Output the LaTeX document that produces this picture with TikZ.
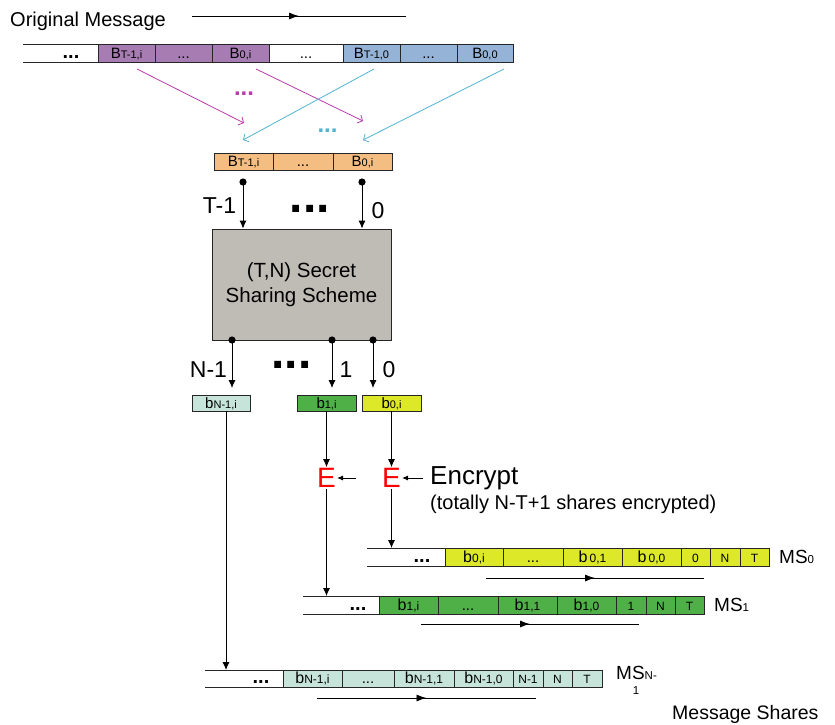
\documentclass[tikz,border=0pt]{standalone}
\usepackage{fontspec}
\setmainfont{Liberation Sans}
\usetikzlibrary{arrows.meta,decorations.markings}
\definecolor{cpurple}{RGB}{166,124,178}
\definecolor{cblue}{RGB}{149,179,215}
\definecolor{corange}{RGB}{244,190,130}
\definecolor{cgray}{RGB}{191,188,182}
\definecolor{cteal}{RGB}{198,228,218}
\definecolor{cgreen}{RGB}{80,176,72}
\definecolor{cyellow}{RGB}{220,232,40}
\definecolor{cmag}{RGB}{185,60,170}
\definecolor{ccyan}{RGB}{80,180,210}
\newcommand{\fs}[1]{\fontsize{#1}{#1}\selectfont}
\newcommand{\bsb}[2]{{\fs{15}#1}{\fs{11}#2}}
\newcommand{\lsb}[2]{{\fs{16}#1}{\fs{12}#2}}
\begin{document}
\begin{tikzpicture}[x=1pt,y=-1pt,
  cell/.style={draw=black!85,line width=0.8pt,inner sep=0pt,outer sep=0pt,
    text height=10.5pt,text depth=0pt,font=\fs{12}},
  cellline/.style={draw=black!85,line width=0.8pt},
  wdots/.style={font=\fs{20}\bfseries,inner sep=0pt},
  bigdots/.style={font=\fs{48}\bfseries,inner sep=0pt},
  lbl/.style={font=\fs{23},inner sep=0pt,anchor=base},
  conn/.style={line width=0.9pt,-{Latex[length=8pt,width=7pt]}},
  econn/.style={line width=0.9pt,-{Latex[length=6pt,width=5pt]}},
  dotstart/.style={fill=black},
  magarrow/.style={draw=cmag,line width=0.8pt,-{Straight Barb[length=4pt,width=9pt]}},
  cyanarrow/.style={draw=ccyan,line width=0.8pt,-{Straight Barb[length=4pt,width=9pt]}},
  midarrow/.style={line width=0.9pt,decoration={markings,
    mark=at position 0.5 with {\arrow{Latex[length=10pt,width=7pt]}}},postaction={decorate}},
  enode/.style={text=red,font=\fs{28},inner sep=1pt},
  txt/.style={inner sep=0pt}]
\useasboundingbox (0,0) rectangle (835,725);
\fill[white] (0,0) rectangle (835,725);

% ---- Original message
\node[txt,anchor=base west,font=\fs{20}] (omsg) at (10,27) {Original Message};
\coordinate (om1) at (192,16);
\coordinate (om2) at (406,16);
\draw[midarrow] (om1) -- (om2);

\begin{scope}[every node/.append style={minimum height=18pt}]
\node[cell,draw=none,minimum width=75] (o0) at (60.5,53) {};
\node[cell,fill=cpurple,minimum width=57] (o1) at (126.5,53) {\bsb{B}{T-1,i}};
\node[cell,fill=cpurple,minimum width=57] (o2) at (183.5,53) {\fs{15}...};
\node[cell,fill=cpurple,minimum width=57] (o3) at (240.5,53) {\bsb{B}{0,i}};
\node[cell,fill=white,minimum width=74] (o4) at (306,53) {\fs{15}...};
\node[cell,fill=cblue,minimum width=57] (o5) at (371.5,53) {\bsb{B}{T-1,0}};
\node[cell,fill=cblue,minimum width=57] (o6) at (428.5,53) {\fs{15}...};
\node[cell,fill=cblue,minimum width=56] (o7) at (485,53) {\bsb{B}{0,0}};
\end{scope}
\draw[cellline] (o0.north west) -- (o0.north east) (o0.south west) -- (o0.south east);
\node[wdots] (o0t) at (71,57) {...};

% ---- crossing arrows
\coordinate (ma1) at (137,69);
\coordinate (mb1) at (244,123);
\coordinate (ma2) at (256,69);
\coordinate (mb2) at (363,121);
\coordinate (ca1) at (374,69);
\coordinate (cb1) at (243,140);
\coordinate (ca2) at (504,69);
\coordinate (cb2) at (363,140);
\draw[magarrow] (ma1) -- (mb1);
\draw[magarrow] (ma2) -- (mb2);
\draw[cyanarrow] (ca1) -- (cb1);
\draw[cyanarrow] (ca2) -- (cb2);
\node[txt,text=cmag,font=\fs{24}\bfseries] (mdots) at (244,94) {...};
\node[txt,text=ccyan,font=\fs{24}\bfseries] (cdots) at (327.5,131) {...};

% ---- middle row
\begin{scope}[every node/.append style={minimum height=17pt}]
\node[cell,fill=corange,minimum width=59] (m1) at (243.5,161.5) {\bsb{B}{T-1,i}};
\node[cell,fill=corange,minimum width=60] (m2) at (303,161.5) {\fs{15}...};
\node[cell,fill=corange,minimum width=59] (m3) at (362.5,161.5) {\bsb{B}{0,i}};
\end{scope}

% ---- secret sharing box
\node[draw=black!85,line width=0.8pt,fill=cgray,minimum width=179pt,minimum height=111pt,
  inner sep=0pt,align=center,font=\fs{20.5}] (sss) at (301.5,284.5)
  {(T,N) Secret\\[4pt]Sharing Scheme};

\coordinate (in1) at (243,182);
\coordinate (in0) at (362,182);
\fill[dotstart] (in1) circle (3.6);
\fill[dotstart] (in0) circle (3.6);
\draw[conn] (in1) -- (in1 |- sss.north);
\draw[conn] (in0) -- (in0 |- sss.north);
\node[lbl] (lt1) at (219.5,213) {T-1};
\node[lbl] (lt0) at (378,218) {0};
\node[bigdots] (bd1) at (310,209) {...};

% ---- outputs
\coordinate (out2) at (232,340);
\coordinate (out1) at (332,340);
\coordinate (out0) at (373,340);
\fill[dotstart] (out2) circle (3.6);
\fill[dotstart] (out1) circle (3.6);
\fill[dotstart] (out0) circle (3.6);

\begin{scope}[every node/.append style={minimum height=16pt}]
\node[cell,fill=cteal,minimum width=58,text height=10pt] (s2) at (221,403) {\bsb{b}{N-1,i}};
\node[cell,fill=cgreen,minimum width=59,text height=10pt] (s1) at (326.5,403) {\bsb{b}{1,i}};
\node[cell,fill=cyellow,minimum width=59,text height=10pt] (s0) at (391.5,403) {\bsb{b}{0,i}};
\end{scope}
\coordinate (t2) at (232,388);
\coordinate (t1) at (332,388);
\coordinate (t0) at (373,388);
\draw[conn] (out2) -- (t2);
\draw[conn] (out1) -- (t1);
\draw[conn] (out0) -- (t0);
\node[lbl] (ln1) at (208.5,377) {N-1};
\node[lbl] (ln1b) at (346,377) {1};
\node[lbl] (ln0) at (389,377) {0};
\node[bigdots] (bd2) at (291.5,365) {...};

% ---- encryption
\node[enode] (E1) at (326.5,478) {E};
\node[enode] (E0) at (391.5,478) {E};
\draw[conn] (s1.south) -- (s1.south |- E1.north);
\draw[conn] (s0.south) -- (s0.south |- E0.north);
\coordinate (enc1) at (356,478);
\coordinate (enc0) at (423,478);
\draw[econn] (enc1) -- (E1.east);
\draw[econn] (enc0) -- (E0.east);
\node[txt,anchor=base west,font=\fs{26}] (enc) at (430,484) {Encrypt};
\node[txt,anchor=base west,font=\fs{20}] (encnote) at (430,509) {(totally N-T+1 shares encrypted)};

% ---- MS0 row
\begin{scope}[every node/.append style={minimum height=18pt}]
\node[cell,draw=none,minimum width=78] (a0) at (406,557) {};
\node[cell,fill=cyellow,minimum width=58] (a1) at (474,557) {\lsb{b}{0,i}};
\node[cell,fill=cyellow,minimum width=60] (a2) at (533,557) {\fs{15}...};
\node[cell,fill=cyellow,minimum width=59] (a3) at (592.5,557) {\lsb{b}{\,0,1}};
\node[cell,fill=cyellow,minimum width=59] (a4) at (651.5,557) {\lsb{b}{\,0,0}};
\node[cell,fill=cyellow,minimum width=29] (a5) at (695.5,557) {0};
\node[cell,fill=cyellow,minimum width=30] (a6) at (725,557) {N};
\node[cell,fill=cyellow,minimum width=29] (a7) at (754.5,557) {T};
\end{scope}
\draw[cellline] (a0.north west) -- (a0.north east) (a0.south west) -- (a0.south east);
\node[wdots] (a0t) at (422,561) {...};
\node[txt,anchor=base west] (ms0) at (779,563) {\fs{19}MS{\fs{11.5}0}};
\coordinate (ar0a) at (486,578);
\coordinate (ar0b) at (704,578);
\draw[midarrow] (ar0a) -- (ar0b);

% ---- MS1 row
\begin{scope}[every node/.append style={minimum height=18pt}]
\node[cell,draw=none,minimum width=76] (b0) at (341,605) {};
\node[cell,fill=cgreen,minimum width=59] (b1) at (408.5,605) {\lsb{b}{1,i}};
\node[cell,fill=cgreen,minimum width=60] (b2) at (468,605) {\fs{15}...};
\node[cell,fill=cgreen,minimum width=59] (b3) at (527.5,605) {\lsb{b}{1,1}};
\node[cell,fill=cgreen,minimum width=59] (b4) at (586.5,605) {\lsb{b}{1,0}};
\node[cell,fill=cgreen,minimum width=30] (b5) at (631,605) {1};
\node[cell,fill=cgreen,minimum width=29] (b6) at (660.5,605) {N};
\node[cell,fill=cgreen,minimum width=29] (b7) at (689.5,605) {T};
\end{scope}
\draw[cellline] (b0.north west) -- (b0.north east) (b0.south west) -- (b0.south east);
\node[wdots] (b0t) at (358,609) {...};
\node[txt,anchor=base west] (ms1) at (714,611) {\fs{19}MS{\fs{11.5}1}};
\coordinate (ar1a) at (421,624);
\coordinate (ar1b) at (639,624);
\draw[midarrow] (ar1a) -- (ar1b);

% ---- MS N-1 row
\begin{scope}[every node/.append style={minimum height=17pt}]
\node[cell,draw=none,minimum width=78] (c0) at (244,678.5) {};
\node[cell,fill=cteal,minimum width=59] (c1) at (312.5,678.5) {\lsb{b}{N-1,i}};
\node[cell,fill=cteal,minimum width=52] (c2) at (368,678.5) {\fs{15}...};
\node[cell,fill=cteal,minimum width=60] (c3) at (424,678.5) {\lsb{b}{N-1,1}};
\node[cell,fill=cteal,minimum width=59] (c4) at (483.5,678.5) {\lsb{b}{N-1,0}};
\node[cell,fill=cteal,minimum width=30] (c5) at (528,678.5) {N-1};
\node[cell,fill=cteal,minimum width=29] (c6) at (557.5,678.5) {N};
\node[cell,fill=cteal,minimum width=30] (c7) at (587,678.5) {T};
\end{scope}
\draw[cellline] (c0.north west) -- (c0.north east) (c0.south west) -- (c0.south east);
\node[wdots] (c0t) at (261,682) {...};
\node[txt,anchor=base west] (msn) at (616,679) {\fs{19}MS{\fs{11.5}N-}};
\node[txt,anchor=base,font=\fs{11.5}] (msn1) at (636,694) {1};
\coordinate (arna) at (317,698);
\coordinate (arnb) at (536,698);
\draw[midarrow] (arna) -- (arnb);

% ---- vertical connectors to rows
\coordinate (v2) at ([xshift=5pt]s2.south);
\draw[conn] (v2) -- (v2 |- c0.north);
\draw[conn] (E1.south) -- (E1.south |- b0.north);
\draw[conn] (E0.south) -- (E0.south |- a0.north);

\node[txt,anchor=base west,font=\fs{19.5}] (mshares) at (672,719) {Message Shares};
\end{tikzpicture}
\end{document}
